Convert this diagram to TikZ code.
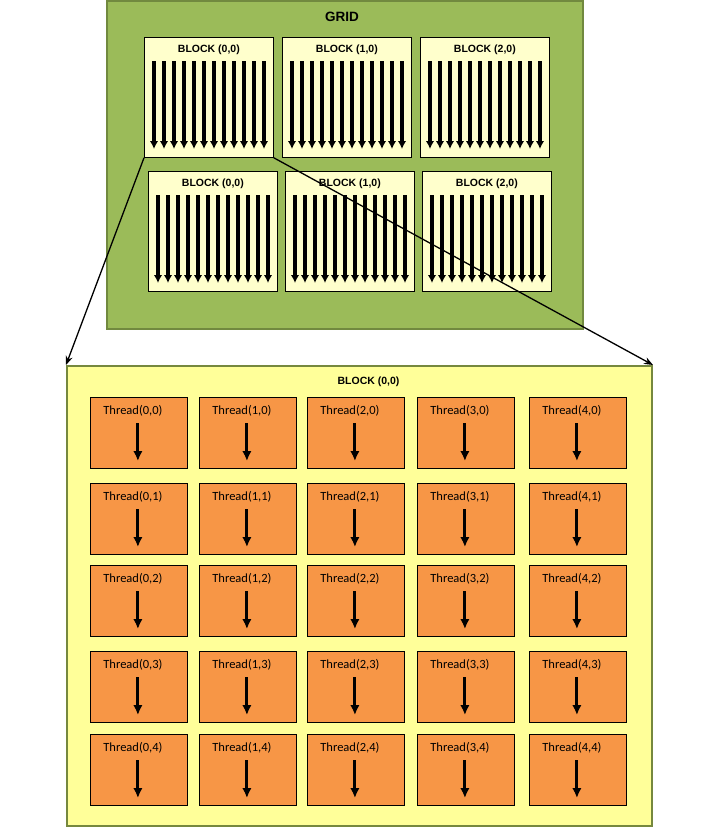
\documentclass[tikz,border=0pt]{standalone}
\usepackage{fontspec}
\setmainfont{Liberation Sans}
\newfontfamily\threadfont{Carlito}
\usetikzlibrary{arrows.meta, positioning}
\definecolor{gridgreen}{HTML}{9BBB59}
\definecolor{gridedge}{HTML}{71893F}
\definecolor{blockfill}{HTML}{FFFFCC}
\definecolor{bigfill}{HTML}{FFFF99}
\definecolor{bigedge}{HTML}{76883E}
\definecolor{threadfill}{HTML}{F79646}
\tikzset{>=latex}
\tikzset{
  gridbox/.style={draw=gridedge, line width=1.5pt, fill=gridgreen, anchor=north west,
    inner sep=0pt, minimum width=476pt, minimum height=328pt},
  blockbox/.style={draw=black, line width=0.8pt, fill=blockfill, anchor=north west,
    inner sep=0pt, minimum width=129pt, minimum height=120pt},
  bigbox/.style={draw=bigedge, line width=2pt, fill=bigfill, anchor=north west,
    inner sep=0pt, minimum width=585pt, minimum height=460pt},
  threadbox/.style={draw=black, line width=0.8pt, fill=threadfill, anchor=north west,
    inner sep=0pt, minimum width=97pt, minimum height=71pt},
  blocklabel/.style={font=\bfseries\fontsize{10.5}{12}\selectfont, inner sep=0pt},
  threadlabel/.style={font=\threadfont\fontsize{12.5}{14}\selectfont, inner sep=0pt},
  blockarrow/.style={line width=3.2pt, -{Latex[length=8pt,width=8.5pt]}},
  threadarrow/.style={line width=3pt, -{Latex[length=10pt,width=9.5pt]}},
  zoomline/.style={line width=1.3pt, -{Stealth[length=9pt,width=7pt]}}
}
\begin{document}
\begin{tikzpicture}[x=1pt, y=-1pt]
\useasboundingbox (0,0) rectangle (712,828);
% grid with its six blocks
\node[gridbox] (grid) at (106,0) {};
\node[font=\bfseries\fontsize{13.5}{15}\selectfont, inner sep=0pt] (gridlabel) at (342,17) {GRID};
\foreach \name/\bx/\by/\lab in {ba0/144/37/{(0,0)}, ba1/282/37/{(1,0)}, ba2/420/37/{(2,0)},
    bb0/148/171/{(0,0)}, bb1/285/171/{(1,0)}, bb2/422/171/{(2,0)}} {
  \node[blockbox] (\name) at (\bx,\by) {};
  \node[blocklabel] (\name label) at ([yshift=-13pt]\name.north) {BLOCK \lab};
  \foreach \i in {0,...,11}
    \draw[blockarrow] ([xshift={10pt+10pt*\i}, yshift=-24pt]\name.north west)
      -- ([xshift={10pt+10pt*\i}, yshift=-112pt]\name.north west);
}
% the enlarged block
\node[bigbox] (big) at (66,365) {};
\node[blocklabel] (biglabel) at ([xshift=9pt, yshift=-17pt]big.north) {BLOCK (0,0)};
\foreach \col/\xl in {0/90, 1/199, 2/307, 3/417, 4/529}
  \foreach \row/\yt in {0/397, 1/483, 2/565, 3/651, 4/734} {
    \node[threadbox] (t\col\row) at (\xl,\yt) {};
    \node[threadlabel] (tl\col\row) at ([xshift=-6pt, yshift=-14pt]t\col\row.north) {Thread(\col,\row)};
    \draw[threadarrow] ([xshift=-1pt, yshift=-26pt]t\col\row.north)
      -- ([xshift=-1pt, yshift=-64pt]t\col\row.north);
  }
% zoom lines
\draw[zoomline] (ba0.south west) -- (big.north west);
\draw[zoomline] (ba0.south east) -- (big.north east);
\end{tikzpicture}
\end{document}
